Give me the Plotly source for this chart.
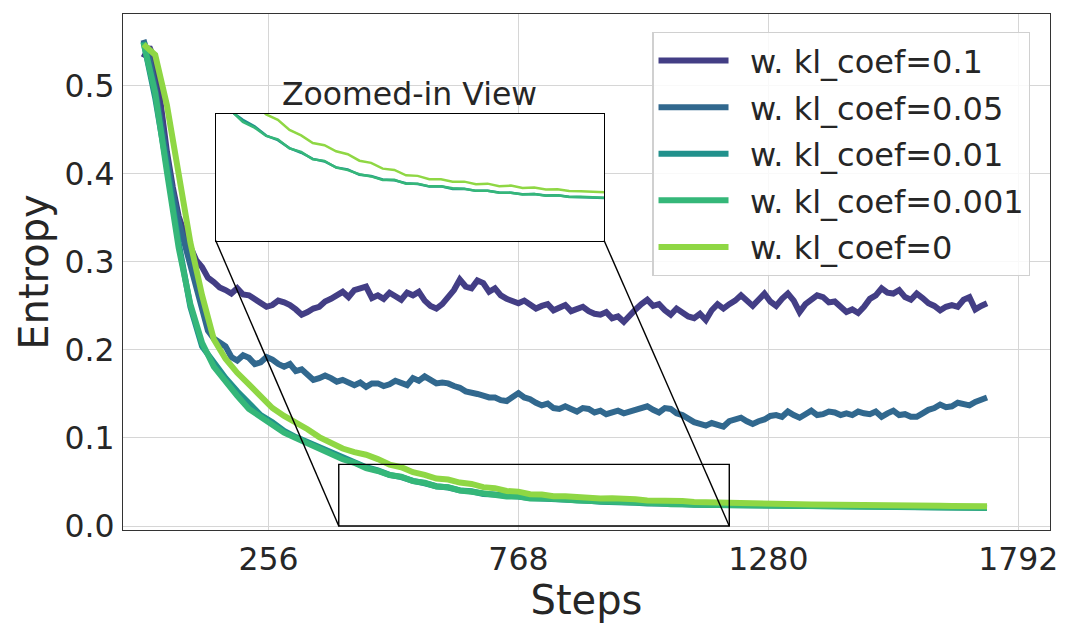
import plotly.graph_objects as go

# training steps: the two noisy runs are read every 12 steps, the smooth ones every 24
steps_fine = list(range(0, 1729, 12))
steps = list(range(0, 1729, 24))

names = ['w. kl_coef=0.1', 'w. kl_coef=0.05', 'w. kl_coef=0.01',
         'w. kl_coef=0.001', 'w. kl_coef=0']
colors = ['#433e85', '#31688e', '#21918c', '#35b779', '#8fd744']

kl_01 = [0.532, 0.544, 0.528, 0.470, 0.425, 0.385, 0.352, 0.332, 0.316, 0.302, 0.294, 0.282,
         0.277, 0.271, 0.268, 0.264, 0.270, 0.263, 0.262, 0.258, 0.255, 0.249, 0.251, 0.256,
         0.254, 0.251, 0.246, 0.240, 0.243, 0.247, 0.249, 0.255, 0.258, 0.262, 0.266, 0.260,
         0.268, 0.270, 0.272, 0.259, 0.262, 0.258, 0.265, 0.261, 0.257, 0.265, 0.262, 0.266,
         0.256, 0.250, 0.247, 0.252, 0.260, 0.268, 0.280, 0.272, 0.270, 0.279, 0.276, 0.266,
         0.270, 0.262, 0.258, 0.255, 0.253, 0.256, 0.251, 0.247, 0.250, 0.252, 0.245, 0.248,
         0.251, 0.244, 0.246, 0.249, 0.244, 0.241, 0.240, 0.243, 0.236, 0.238, 0.232, 0.240,
         0.246, 0.252, 0.257, 0.250, 0.252, 0.245, 0.240, 0.247, 0.243, 0.238, 0.236, 0.241,
         0.234, 0.245, 0.252, 0.247, 0.252, 0.256, 0.262, 0.255, 0.250, 0.257, 0.264, 0.255,
         0.250, 0.258, 0.264, 0.256, 0.243, 0.252, 0.258, 0.262, 0.260, 0.254, 0.255, 0.249,
         0.243, 0.246, 0.242, 0.249, 0.258, 0.262, 0.270, 0.265, 0.264, 0.268, 0.260, 0.257,
         0.264, 0.259, 0.253, 0.250, 0.245, 0.249, 0.251, 0.249, 0.257, 0.260, 0.246, 0.250,
         0.253]
kl_005 = [0.552, 0.530, 0.497, 0.455, 0.412, 0.378, 0.346, 0.322, 0.298, 0.270, 0.246, 0.222,
          0.213, 0.208, 0.204, 0.192, 0.188, 0.194, 0.191, 0.184, 0.186, 0.192, 0.189, 0.184,
          0.181, 0.184, 0.176, 0.178, 0.173, 0.166, 0.168, 0.171, 0.168, 0.164, 0.166, 0.163,
          0.160, 0.163, 0.158, 0.162, 0.162, 0.159, 0.161, 0.165, 0.163, 0.160, 0.168, 0.165,
          0.170, 0.165, 0.162, 0.163, 0.162, 0.159, 0.157, 0.153, 0.152, 0.150, 0.148, 0.146,
          0.146, 0.143, 0.142, 0.147, 0.151, 0.146, 0.144, 0.140, 0.137, 0.139, 0.134, 0.133,
          0.136, 0.133, 0.130, 0.134, 0.133, 0.129, 0.131, 0.127, 0.129, 0.131, 0.128, 0.130,
          0.131, 0.134, 0.136, 0.132, 0.129, 0.134, 0.133, 0.128, 0.126, 0.122, 0.118, 0.116,
          0.114, 0.117, 0.115, 0.113, 0.119, 0.121, 0.123, 0.119, 0.116, 0.119, 0.121, 0.125,
          0.126, 0.124, 0.130, 0.126, 0.123, 0.127, 0.131, 0.126, 0.127, 0.130, 0.129, 0.126,
          0.128, 0.126, 0.130, 0.128, 0.127, 0.130, 0.124, 0.128, 0.131, 0.126, 0.127, 0.124,
          0.124, 0.128, 0.132, 0.134, 0.138, 0.135, 0.136, 0.140, 0.139, 0.137, 0.141, 0.143,
          0.146]
kl_001 = [0.550, 0.486, 0.408, 0.322, 0.249, 0.204, 0.186, 0.168, 0.153, 0.139, 0.126, 0.118,
          0.108, 0.101, 0.095, 0.089, 0.083, 0.077, 0.0715, 0.0668, 0.0632, 0.0581, 0.0556, 0.0512,
          0.0486, 0.0452, 0.0438, 0.0405, 0.0394, 0.0364, 0.0357, 0.0338, 0.0334, 0.0317, 0.0313, 0.0299,
          0.0301, 0.0286, 0.0287, 0.0275, 0.0275, 0.0266, 0.0265, 0.0256, 0.0257, 0.0249, 0.0250, 0.0242,
          0.0241, 0.0239, 0.0235, 0.0232, 0.0231, 0.0228, 0.0226, 0.0224, 0.0223, 0.0221, 0.0219, 0.0218,
          0.0216, 0.0215, 0.0214, 0.0213, 0.0212, 0.0211, 0.0210, 0.0209, 0.0209, 0.0208, 0.0207, 0.0206,
          0.0205]
kl_0001 = [0.549, 0.492, 0.402, 0.316, 0.252, 0.208, 0.181, 0.164, 0.148, 0.133, 0.124, 0.116,
           0.106, 0.100, 0.094, 0.088, 0.0822, 0.0758, 0.0718, 0.0657, 0.0625, 0.0579, 0.0560, 0.0510,
           0.0491, 0.0450, 0.0441, 0.0404, 0.0390, 0.0367, 0.0355, 0.0335, 0.0336, 0.0314, 0.0315, 0.0300,
           0.0301, 0.0289, 0.0286, 0.0276, 0.0276, 0.0265, 0.0265, 0.0255, 0.0258, 0.0248, 0.0250, 0.0241,
           0.0242, 0.0238, 0.0236, 0.0233, 0.0231, 0.0229, 0.0226, 0.0224, 0.0223, 0.0221, 0.0222, 0.0219,
           0.0218, 0.0217, 0.0216, 0.0215, 0.0214, 0.0213, 0.0213, 0.0212, 0.0212, 0.0211, 0.0210, 0.0210,
           0.0209]
kl_0 = [0.547, 0.535, 0.478, 0.395, 0.322, 0.262, 0.212, 0.190, 0.174, 0.161, 0.147, 0.134,
        0.125, 0.118, 0.110, 0.101, 0.094, 0.088, 0.084, 0.081, 0.076, 0.0698, 0.0668, 0.0612,
        0.0582, 0.0540, 0.0528, 0.0494, 0.0478, 0.0442, 0.0430, 0.0398, 0.0391, 0.0361, 0.0358, 0.0339,
        0.0339, 0.0326, 0.0326, 0.0312, 0.0315, 0.0301, 0.0304, 0.0291, 0.0294, 0.0283, 0.0284, 0.0274,
        0.0273, 0.0269, 0.0264, 0.0262, 0.0259, 0.0256, 0.0253, 0.0251, 0.0248, 0.0246, 0.0243, 0.0241,
        0.0239, 0.0238, 0.0236, 0.0235, 0.0233, 0.0232, 0.0231, 0.0230, 0.0229, 0.0228, 0.0227, 0.0226,
        0.0225]
series = [kl_01, kl_005, kl_001, kl_0001, kl_0]
series_x = [steps_fine, steps_fine, steps, steps, steps]

x_ticks = [256, 768, 1280, 1792]
y_ticks = [0.0, 0.1, 0.2, 0.3, 0.4, 0.5]

# zoomed region and where the inset sits
zoom_x = [400, 1200]
zoom_y = [0.0, 0.07]
inset_dom_x = [0.100, 0.519]
inset_dom_y = [0.561, 0.806]

x_range = [-42, 1857]
y_range = [-0.0045, 0.5815]

txt = '#262626'
font = 'DejaVu Sans'

fig = go.Figure()

for i in range(len(series)):
    fig.add_trace(go.Scatter(
        x=series_x[i], y=series[i], name='\u00a0\u2009' + names[i], mode='lines',
        line=dict(color=colors[i], width=6),
        legendgroup=names[i]))

for i in range(len(series)):
    fig.add_trace(go.Scatter(
        x=series_x[i], y=series[i], name=names[i], mode='lines',
        line=dict(color=colors[i], width=2.5),
        xaxis='x2', yaxis='y2', showlegend=False))

# inset corners in main-axis data units
def to_x(f):
    return x_range[0] + f * (x_range[1] - x_range[0])

def to_y(f):
    return y_range[0] + f * (y_range[1] - y_range[0])

ix0, ix1 = to_x(inset_dom_x[0]), to_x(inset_dom_x[1])
iy0, iy1 = to_y(inset_dom_y[0]), to_y(inset_dom_y[1])

shapes = [
    # white card behind inset (hides the main grid)
    dict(type='rect', xref='x', yref='y', x0=ix0, x1=ix1, y0=iy0, y1=iy1,
         fillcolor='white', line=dict(width=0), layer='between'),
    # source rectangle
    dict(type='rect', xref='x', yref='y', x0=zoom_x[0], x1=zoom_x[1],
         y0=zoom_y[0], y1=zoom_y[1], line=dict(color='black', width=1.4)),
    # connectors
    dict(type='line', xref='x', yref='y', x0=ix0, y0=iy0, x1=zoom_x[0], y1=zoom_y[0],
         line=dict(color='black', width=1.4)),
    dict(type='line', xref='x', yref='y', x0=ix1, y0=iy0, x1=zoom_x[1], y1=zoom_y[0],
         line=dict(color='black', width=1.4)),
]

# page body adds 8px, so the figure is a bit smaller than the window
fig.update_layout(
    width=1064, height=620,
    margin=dict(l=115, r=22, t=6, b=98),
    paper_bgcolor='white', plot_bgcolor='white',
    font=dict(family=font, color=txt),
    shapes=shapes,
    legend=dict(x=0.571, y=0.965, xanchor='left', yanchor='top',
                bgcolor='rgba(255,255,255,0.85)', bordercolor='#d0d0d0', borderwidth=1.2,
                font=dict(size=32, family=font, color=txt),
                tracegroupgap=2, itemwidth=70),
    xaxis=dict(range=x_range, tickvals=x_ticks, showgrid=True, gridcolor='#d6d6d6', gridwidth=1.2,
               zeroline=False, showline=True, mirror=True, linecolor='#333333', linewidth=1.3,
               ticks='outside', ticklen=1, tickcolor='rgba(0,0,0,0)', automargin=False,
               tickfont=dict(size=31.5, family=font, color=txt),
               title=dict(text='Steps', font=dict(size=40, family=font, color=txt), standoff=7)),
    yaxis=dict(range=y_range, tickvals=y_ticks, tickformat='.1f', showgrid=True,
               gridcolor='#d6d6d6', gridwidth=1.2, automargin=False,
               zeroline=False, showline=True, mirror=True, linecolor='#333333', linewidth=1.3,
               ticks='outside', ticklen=1, tickcolor='rgba(0,0,0,0)',
               tickfont=dict(size=31.5, family=font, color=txt),
               title=dict(text='Entropy', font=dict(size=40, family=font, color=txt), standoff=3)),
    xaxis2=dict(domain=inset_dom_x, anchor='y2', range=zoom_x, showgrid=False, zeroline=False,
                showticklabels=False, showline=True, mirror=True, linecolor='black', linewidth=1.4),
    yaxis2=dict(domain=inset_dom_y, anchor='x2', range=zoom_y, showgrid=False, zeroline=False,
                showticklabels=False, showline=True, mirror=True, linecolor='black', linewidth=1.4),
    annotations=[dict(text='Zoomed-in View', xref='paper', yref='paper',
                      x=sum(inset_dom_x) / 2, y=inset_dom_y[1], xanchor='center', yanchor='bottom',
                      yshift=0, showarrow=False, font=dict(size=31.5, family=font, color=txt))],
)

fig.write_html('out.html')
